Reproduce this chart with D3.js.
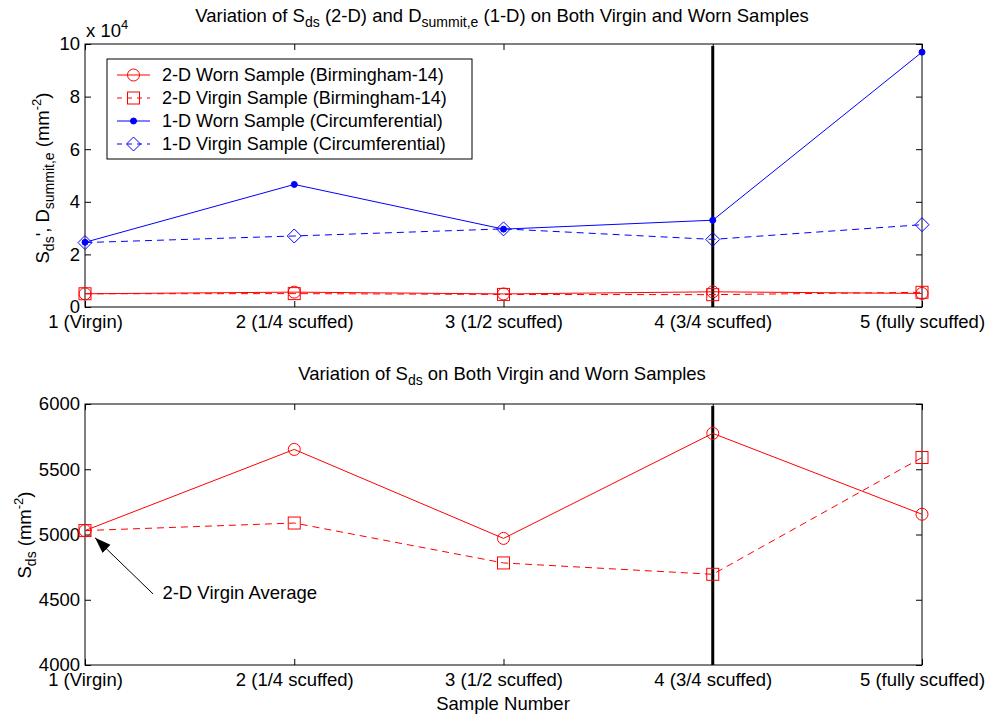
<!DOCTYPE html>
<html>
<head>
<meta charset="utf-8">
<script src="https://cdn.jsdelivr.net/npm/d3@7"></script>
<style>
  body { margin: 0; background: #fff; }
  svg text { font-family: "Liberation Sans", Arial, sans-serif; fill: #000; }
</style>
</head>
<body>
<script>
const samples = ["1 (Virgin)", "2 (1/4 scuffed)", "3 (1/2 scuffed)", "4 (3/4 scuffed)", "5 (fully scuffed)"];

// S_ds values (mm^-2)
const worn2D = [5030, 5652, 4970, 5775, 5155];
const virgin2D = [5030, 5088, 4782, 4695, 5590];

// D_summit,e values (x 10^4 mm^-2)
const worn1D = [2.46, 4.66, 2.96, 3.30, 9.69];
const virgin1D = [2.45, 2.70, 2.97, 2.57, 3.13];

const topTicks = [0, 2, 4, 6, 8, 10];
const bottomTicks = [4000, 4500, 5000, 5500, 6000];
const markedSample = samples[3];

const width = 990, height = 719;
const left = 85, right = 922;
const fs = "18.5px";

const svg = d3.select("body").append("svg")
    .attr("width", width)
    .attr("height", height);

const x = d3.scalePoint().domain(samples).range([left, right]);
const yTop = d3.scaleLinear().domain([0, 10]).range([307, 44]);
const yBot = d3.scaleLinear().domain([4000, 6000]).range([665, 404]);

const red = "#ff0000", blue = "#0000ff";

function drawFrame(y, ticks, fmt) {
    const g = svg.append("g");
    const [y0, y1] = y.range();

    g.append("g")
        .attr("transform", `translate(0,${y0})`)
        .call(d3.axisBottom(x).tickSizeInner(-6).tickSizeOuter(0).tickPadding(8))
        .call(a => a.select(".domain").remove());
    g.append("g")
        .attr("transform", `translate(0,${y1})`)
        .call(d3.axisTop(x).tickSizeInner(-6).tickSizeOuter(0).tickFormat(""))
        .call(a => a.select(".domain").remove());
    g.append("g")
        .attr("transform", `translate(${left},0)`)
        .call(d3.axisLeft(y).tickValues(ticks).tickFormat(fmt).tickSizeInner(-6).tickSizeOuter(0).tickPadding(5))
        .call(a => a.select(".domain").remove());
    g.append("g")
        .attr("transform", `translate(${right},0)`)
        .call(d3.axisRight(y).tickValues(ticks).tickFormat("").tickSizeInner(-6).tickSizeOuter(0))
        .call(a => a.select(".domain").remove());

    g.selectAll(".tick line").attr("stroke", "#000");
    g.selectAll(".tick text").style("font-size", fs).attr("fill", "#000");

    g.append("rect")
        .attr("x", left).attr("y", y1)
        .attr("width", right - left).attr("height", y0 - y1)
        .attr("fill", "none").attr("stroke", "#000").attr("stroke-width", 1);

    // thick marker line at sample 4
    g.append("line")
        .attr("x1", x(markedSample)).attr("x2", x(markedSample))
        .attr("y1", y1 + 2).attr("y2", y0)
        .attr("stroke", "#000").attr("stroke-width", 3);
    return g;
}

function marker(g, type, cx, cy, color) {
    if (type === "circle") {
        g.append("circle").attr("cx", cx).attr("cy", cy).attr("r", 6)
            .attr("fill", "none").attr("stroke", color);
    } else if (type === "square") {
        g.append("rect").attr("x", cx - 6).attr("y", cy - 6).attr("width", 12).attr("height", 12)
            .attr("fill", "none").attr("stroke", color);
    } else if (type === "dot") {
        g.append("circle").attr("cx", cx).attr("cy", cy).attr("r", 3)
            .attr("fill", color).attr("stroke", color);
    } else if (type === "diamond") {
        g.append("path")
            .attr("d", `M${cx},${cy - 7}L${cx + 7},${cy}L${cx},${cy + 7}L${cx - 7},${cy}Z`)
            .attr("fill", "none").attr("stroke", color);
    }
}

function drawSeries(y, values, color, dashed, type) {
    const g = svg.append("g");
    const line = d3.line().x((d, i) => x(samples[i])).y(d => y(d));
    g.append("path")
        .datum(values)
        .attr("d", line)
        .attr("fill", "none")
        .attr("stroke", color)
        .attr("stroke-width", 1)
        .attr("stroke-dasharray", dashed ? "7,5" : null);
    values.forEach((v, i) => marker(g, type, x(samples[i]), y(v), color));
}

// ---------- top plot ----------
drawFrame(yTop, topTicks, d3.format("d"));
drawSeries(yTop, virgin2D.map(v => v / 1e4), red, true, "square");
drawSeries(yTop, worn2D.map(v => v / 1e4), red, false, "circle");
drawSeries(yTop, virgin1D, blue, true, "diamond");
drawSeries(yTop, worn1D, blue, false, "dot");

const t1 = svg.append("text").attr("x", 502).attr("y", 22)
    .attr("text-anchor", "middle").style("font-size", fs);
t1.append("tspan").text("Variation of S");
t1.append("tspan").attr("dy", 5).style("font-size", "14px").text("ds");
t1.append("tspan").attr("dy", -5).text(" (2-D) and D");
t1.append("tspan").attr("dy", 5).style("font-size", "14px").text("summit,e");
t1.append("tspan").attr("dy", -5).text(" (1-D) on Both Virgin and Worn Samples");

const exp = svg.append("text").attr("x", 86).attr("y", 37).style("font-size", fs);
exp.append("tspan").text("x 10");
exp.append("tspan").attr("dy", -8).style("font-size", "13px").text("4");

const yl1 = svg.append("text")
    .attr("transform", "translate(49,178) rotate(-90)")
    .attr("text-anchor", "middle").style("font-size", fs);
yl1.append("tspan").text("S");
yl1.append("tspan").attr("dy", 5).style("font-size", "14px").text("ds");
yl1.append("tspan").attr("dy", -5).text("',  D");
yl1.append("tspan").attr("dy", 5).style("font-size", "14px").text("summit,e");
yl1.append("tspan").attr("dy", -5).text("  (mm");
yl1.append("tspan").attr("dy", -8).style("font-size", "13px").text("-2");
yl1.append("tspan").attr("dy", 8).text(")");

// legend
const legendItems = [
    { label: "2-D Worn Sample (Birmingham-14)", color: red, dashed: false, type: "circle" },
    { label: "2-D Virgin Sample (Birmingham-14)", color: red, dashed: true, type: "square" },
    { label: "1-D Worn Sample (Circumferential)", color: blue, dashed: false, type: "dot" },
    { label: "1-D Virgin Sample (Circumferential)", color: blue, dashed: true, type: "diamond" }
];
const lg = svg.append("g");
lg.append("rect").attr("x", 107).attr("y", 59).attr("width", 365).attr("height", 100)
    .attr("fill", "#fff").attr("stroke", "#000");
legendItems.forEach((d, i) => {
    const ly = 75 + i * 23;
    lg.append("line").attr("x1", 117).attr("x2", 150).attr("y1", ly).attr("y2", ly)
        .attr("stroke", d.color).attr("stroke-dasharray", d.dashed ? "5,5" : null);
    marker(lg, d.type, 133.5, ly, d.color);
    lg.append("text").attr("x", 162).attr("y", ly + 6).style("font-size", "18px").text(d.label);
});

// ---------- bottom plot ----------
drawFrame(yBot, bottomTicks, d3.format("d"));
drawSeries(yBot, virgin2D, red, true, "square");
drawSeries(yBot, worn2D, red, false, "circle");

const t2 = svg.append("text").attr("x", 502).attr("y", 380)
    .attr("text-anchor", "middle").style("font-size", fs);
t2.append("tspan").text("Variation of S");
t2.append("tspan").attr("dy", 5).style("font-size", "14px").text("ds");
t2.append("tspan").attr("dy", -5).text(" on Both Virgin and Worn Samples");

const yl2 = svg.append("text")
    .attr("transform", "translate(31,535) rotate(-90)")
    .attr("text-anchor", "middle").style("font-size", fs);
yl2.append("tspan").text("S");
yl2.append("tspan").attr("dy", 5).style("font-size", "14px").text("ds");
yl2.append("tspan").attr("dy", -5).text(" (mm");
yl2.append("tspan").attr("dy", -8).style("font-size", "13px").text("-2");
yl2.append("tspan").attr("dy", 8).text(")");

svg.append("text").attr("x", 503).attr("y", 710)
    .attr("text-anchor", "middle").style("font-size", fs).text("Sample Number");

// annotation arrow
const xNum = d3.scaleLinear().domain([1, 5]).range([left, right]);
const arrowTip = [xNum(1.048), yBot(4975)];
const arrowTail = [xNum(1.325), yBot(4545)];
svg.append("defs").append("marker")
    .attr("id", "head").attr("viewBox", "0 0 10 10")
    .attr("refX", 10).attr("refY", 5)
    .attr("markerWidth", 16).attr("markerHeight", 16)
    .attr("markerUnits", "userSpaceOnUse")
    .attr("orient", "auto")
    .append("path").attr("d", "M0,1.5L10,5L0,8.5Z").attr("fill", "#000");
svg.append("line")
    .attr("x1", arrowTail[0]).attr("y1", arrowTail[1])
    .attr("x2", arrowTip[0]).attr("y2", arrowTip[1])
    .attr("stroke", "#000").attr("stroke-width", 1)
    .attr("marker-end", "url(#head)");
svg.append("text").attr("x", xNum(1.37)).attr("y", yBot(4545) + 5)
    .style("font-size", fs).text("2-D Virgin Average");
</script>
</body>
</html>
